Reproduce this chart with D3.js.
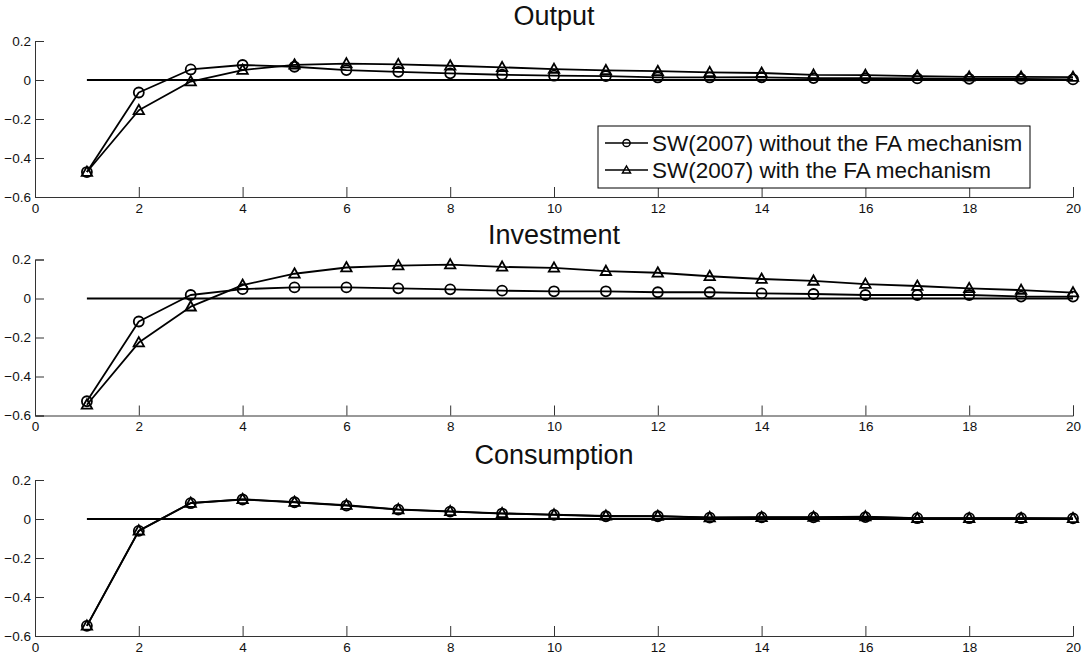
<!DOCTYPE html>
<html>
<head>
<meta charset="utf-8">
<script src="https://cdn.jsdelivr.net/npm/d3@7"></script>
<style>
  html, body { margin: 0; padding: 0; background: #fff; }
  svg { display: block; font-family: "Liberation Sans", Arial, Helvetica, sans-serif; }
</style>
</head>
<body>
<svg id="chart" width="1091" height="661"></svg>
<script>
// ---- Data ----
const periods = d3.range(1, 21);
const panelTitles = ["Output", "Investment", "Consumption"];
const seriesNames = ["SW(2007) without the FA mechanism", "SW(2007) with the FA mechanism"];

const outputWithout = [-0.472, -0.064, 0.054, 0.077, 0.068, 0.051, 0.042, 0.034, 0.027, 0.022,
                       0.020, 0.013, 0.013, 0.014, 0.010, 0.010, 0.008, 0.006, 0.006, 0.003];
const outputWith    = [-0.472, -0.155, -0.008, 0.051, 0.078, 0.084, 0.080, 0.073, 0.065, 0.056,
                       0.049, 0.045, 0.039, 0.036, 0.026, 0.025, 0.020, 0.016, 0.016, 0.015];

const investWithout = [-0.527, -0.118, 0.018, 0.048, 0.057, 0.057, 0.052, 0.047, 0.040, 0.037,
                       0.037, 0.032, 0.032, 0.026, 0.023, 0.018, 0.018, 0.018, 0.010, 0.010];
const investWith    = [-0.545, -0.226, -0.042, 0.069, 0.127, 0.159, 0.169, 0.174, 0.162, 0.157,
                       0.140, 0.132, 0.114, 0.100, 0.090, 0.074, 0.064, 0.052, 0.043, 0.030];

const consWithout   = [-0.548, -0.061, 0.081, 0.100, 0.086, 0.069, 0.048, 0.038, 0.028, 0.021,
                       0.014, 0.014, 0.007, 0.008, 0.008, 0.010, 0.004, 0.004, 0.004, 0.003];
const consWith      = [-0.548, -0.060, 0.082, 0.101, 0.087, 0.071, 0.049, 0.039, 0.029, 0.022,
                       0.016, 0.015, 0.008, 0.009, 0.010, 0.012, 0.004, 0.004, 0.004, 0.003];

const zeroLine = d3.range(1, 21).map(() => 0);

const xTicks = d3.range(0, 21, 2);
const yTicks = [-0.6, -0.4, -0.2, 0, 0.2];

const panels = [
  { title: panelTitles[0], without: outputWithout, withFA: outputWith, legend: true },
  { title: panelTitles[1], without: investWithout, withFA: investWith, legend: false },
  { title: panelTitles[2], without: consWithout, withFA: consWith, legend: false }
];

// ---- Layout ----
const svg = d3.select("#chart");
const left = 35, right = 1073;
const tops = [41, 259.5, 480];
const ph = 156;

const x = d3.scaleLinear().domain([0, 20]).range([left, right]);

const triPath = "M0,-5.5 L5.2,3.8 L-5.2,3.8 Z";
const triSmall = "M0,-4 L4,3 L-4,3 Z";
const sw = 1.8;

panels.forEach((p, i) => {
  const top = tops[i];
  const y = d3.scaleLinear().domain([-0.6, 0.2]).range([top + ph, top]);
  const g = svg.append("g");

  // title
  g.append("text")
    .attr("x", (left + right) / 2)
    .attr("y", top - 16)
    .attr("text-anchor", "middle")
    .attr("font-size", 27)
    .attr("fill", "#111")
    .text(p.title);

  // axes
  const xAxis = d3.axisBottom(x).tickValues(xTicks).tickSize(-10).tickPadding(6).tickFormat(d3.format("d"));
  const yAxis = d3.axisLeft(y).tickValues(yTicks).tickSize(-9).tickPadding(4)
    .tickFormat(d => d === 0 ? "0" : d3.format(".1f")(d));

  const gx = g.append("g").attr("transform", `translate(0,${top + ph})`).call(xAxis);
  const gy = g.append("g").attr("transform", `translate(${left},0)`).call(yAxis);
  [gx, gy].forEach(a => {
    a.select(".domain").attr("stroke", "#333").attr("stroke-width", 1);
    a.selectAll(".tick line").attr("stroke", "#333").attr("stroke-width", 1);
    a.selectAll(".tick text").attr("font-size", 13.5).attr("fill", "#111")
      .attr("font-family", "'Liberation Sans', Arial, sans-serif");
  });

  const line = d3.line().x((d, j) => x(periods[j])).y(d => y(d));

  // zero line
  g.append("path").datum(zeroLine).attr("d", line)
    .attr("fill", "none").attr("stroke", "#000").attr("stroke-width", sw);

  // series
  [p.without, p.withFA].forEach((vals, s) => {
    g.append("path").datum(vals).attr("d", line)
      .attr("fill", "none").attr("stroke", "#000").attr("stroke-width", sw)
      .attr("stroke-linejoin", "round");
    if (s === 0) {
      g.selectAll(null).data(vals).enter().append("circle")
        .attr("cx", (d, j) => x(periods[j])).attr("cy", d => y(d))
        .attr("r", 5).attr("fill", "none").attr("stroke", "#000").attr("stroke-width", sw);
    } else {
      g.selectAll(null).data(vals).enter().append("path")
        .attr("d", triPath)
        .attr("transform", (d, j) => `translate(${x(periods[j])},${y(d)})`)
        .attr("fill", "none").attr("stroke", "#000").attr("stroke-width", sw);
    }
  });

  if (p.legend) {
    const lx = 598, ly = 126, lw = 432, lh = 62;
    const lg = g.append("g");
    lg.append("rect").attr("x", lx).attr("y", ly).attr("width", lw).attr("height", lh)
      .attr("fill", "#fff").attr("stroke", "#000").attr("stroke-width", 1);
    seriesNames.forEach((name, k) => {
      const cy = ly + 17 + k * 27;
      lg.append("line").attr("x1", lx + 7).attr("x2", lx + 50).attr("y1", cy).attr("y2", cy)
        .attr("stroke", "#000").attr("stroke-width", 1.5);
      if (k === 0) {
        lg.append("circle").attr("cx", lx + 28.5).attr("cy", cy).attr("r", 3.6)
          .attr("fill", "none").attr("stroke", "#000").attr("stroke-width", 1.5);
      } else {
        lg.append("path").attr("d", triSmall).attr("transform", `translate(${lx + 28.5},${cy})`)
          .attr("fill", "none").attr("stroke", "#000").attr("stroke-width", 1.5);
      }
      lg.append("text").attr("x", lx + 54).attr("y", cy).attr("dy", "0.35em")
        .attr("font-size", 22.5).attr("fill", "#111").text(name);
    });
  }
});
</script>
</body>
</html>
